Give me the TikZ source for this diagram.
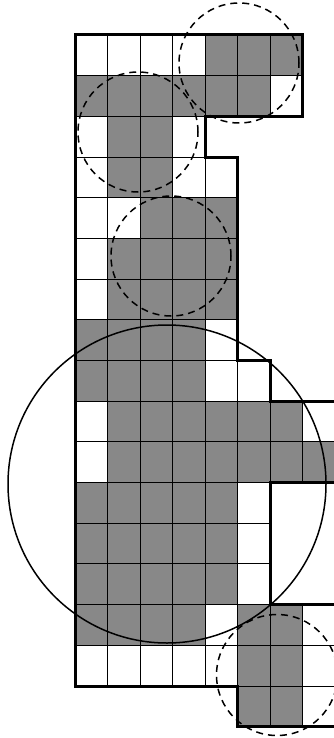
\documentclass[tikz,border=0pt]{standalone}
\definecolor{cellgray}{RGB}{136,136,136}
\tikzset{
  gridline/.style={draw=black, line width=1pt},
  outline/.style={draw=black, line width=3pt, line join=miter},
  graycell/.style={fill=cellgray},
  dashcircle/.style={draw=black, line width=1.5pt, dash pattern=on 7pt off 5pt},
  solidcircle/.style={draw=black, line width=1.5pt}
}
\begin{document}
\begin{tikzpicture}[x=1pt,y=-1pt]
\useasboundingbox (0,0) rectangle (334,738);
\begin{scope}[shift={(75pt,-35pt)}, x=32.5pt, y=-40.69pt]
  % white background of the cells
  \fill[white] (0,0) -- (7,0) -- (7,2) -- (4,2) -- (4,3) -- (5,3) -- (5,8) -- (6,8) -- (6,9) -- (8,9) -- (8,11) -- (6,11) -- (6,14) -- (8,14) -- (8,17) -- (5,17) -- (5,16) -- (0,16) -- cycle;
  % gray runs: row/start/end
  \foreach \r/\a/\b in {0/4/7, 1/0/6, 2/1/3, 3/1/3, 4/2/5, 5/1/5, 6/1/5, 7/0/4, 8/0/4,
                        9/1/7, 10/1/8, 11/0/5, 12/0/5, 13/0/5, 14/0/4, 14/5/7, 15/5/7, 16/5/7}
    \fill[graycell] (\a,\r) rectangle (\b,\r+1);
  % grid lines per row: row/start/end
  \foreach \r/\a/\b in {0/0/7, 1/0/7, 2/0/4, 3/0/5, 4/0/5, 5/0/5, 6/0/5, 7/0/5, 8/0/6,
                        9/0/8, 10/0/8, 11/0/6, 12/0/6, 13/0/6, 14/0/8, 15/0/8, 16/5/8}
  {
    \pgfmathtruncatemacro{\bb}{\b-1}
    \foreach \c in {\a,...,\bb}
      \draw[gridline] (\c,\r) rectangle (\c+1,\r+1);
  }
  % thick outline
  \draw[outline] (0,0) -- (7,0) -- (7,2) -- (4,2) -- (4,3) -- (5,3) -- (5,8) -- (6,8) -- (6,9) -- (8,9) -- (8,11) -- (6,11) -- (6,14) -- (8,14) -- (8,17) -- (5,17) -- (5,16) -- (0,16) -- cycle;
\end{scope}
% circles
\draw[dashcircle] (239,63) circle[radius=60pt];
\draw[dashcircle] (138,132) circle[radius=60pt];
\draw[dashcircle] (171,256) circle[radius=60pt];
\draw[solidcircle] (167,484) circle[radius=159pt];
\draw[dashcircle] (277,675) circle[radius=60.5pt];
\end{tikzpicture}
\end{document}
